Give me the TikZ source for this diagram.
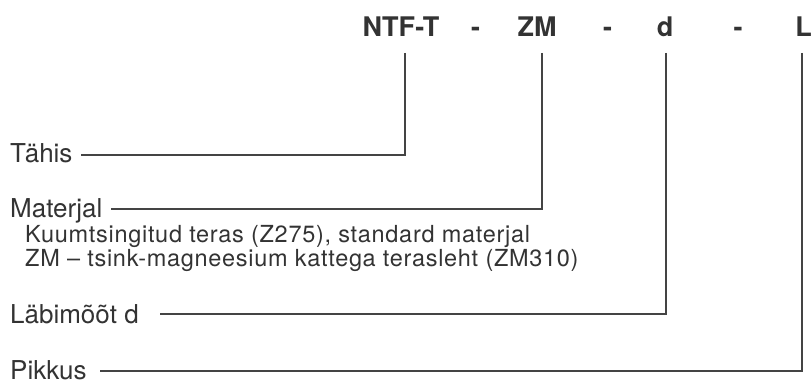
\documentclass[tikz,border=0pt]{standalone}
\usepackage{fontspec}
\setmainfont{TeX Gyre Heros}
\definecolor{txt}{HTML}{333333}
\definecolor{ln}{HTML}{444444}
\begin{document}
\begin{tikzpicture}[x=1pt,y=-1pt,
  head/.style={anchor=base,inner sep=0pt,text=txt,font=\fontsize{27}{30}\selectfont\bfseries},
  lbl/.style={anchor=base west,inner sep=0pt,text=txt,font=\fontsize{26}{30}\selectfont},
  sub/.style={anchor=base west,inner sep=0pt,text=txt,align=left,
    font=\fontsize{23.5}{21}\selectfont\addfontfeature{LetterSpace=3}},
  conn/.style={draw=ln,line width=1.5pt}]
\useasboundingbox (0,0) rectangle (811,385);
% header
\node[head] (ntf) at (401,37) {NTF-T};
\node[head] (h1) at (475.5,37) {-};
\node[head] (zm) at (537,37) {ZM};
\node[head] (h2) at (607.5,37) {-};
\node[head] (d) at (665,37) {d};
\node[head] (h3) at (738,37) {-};
\node[head] (L) at (803.5,37) {L};
% labels
\node[lbl] (tahis) at (10,163) {Tähis};
\node[lbl] (mat) at (10,217) {Materjal};
\node[sub] (subtxt) at (25,266) {Kuumtsingitud teras (Z275), standard materjal\\ZM – tsink-magneesium kattega terasleht (ZM310)};
\node[lbl] (lab) at (10,323) {Läbimõõt d};
\node[lbl] (pik) at (10,379) {Pikkus};
% connector ends
\coordinate (a1) at (405,53);
\coordinate (a2) at (81,155);
\coordinate (b1) at (542,53);
\coordinate (b2) at (111,209);
\coordinate (c1) at (666,53);
\coordinate (c2) at (160,314);
\coordinate (d1) at (802,53);
\coordinate (d2) at (100,371);
\draw[conn] (a1) |- (a2);
\draw[conn] (b1) |- (b2);
\draw[conn] (c1) |- (c2);
\draw[conn] (d1) |- (d2);
\end{tikzpicture}
\end{document}
